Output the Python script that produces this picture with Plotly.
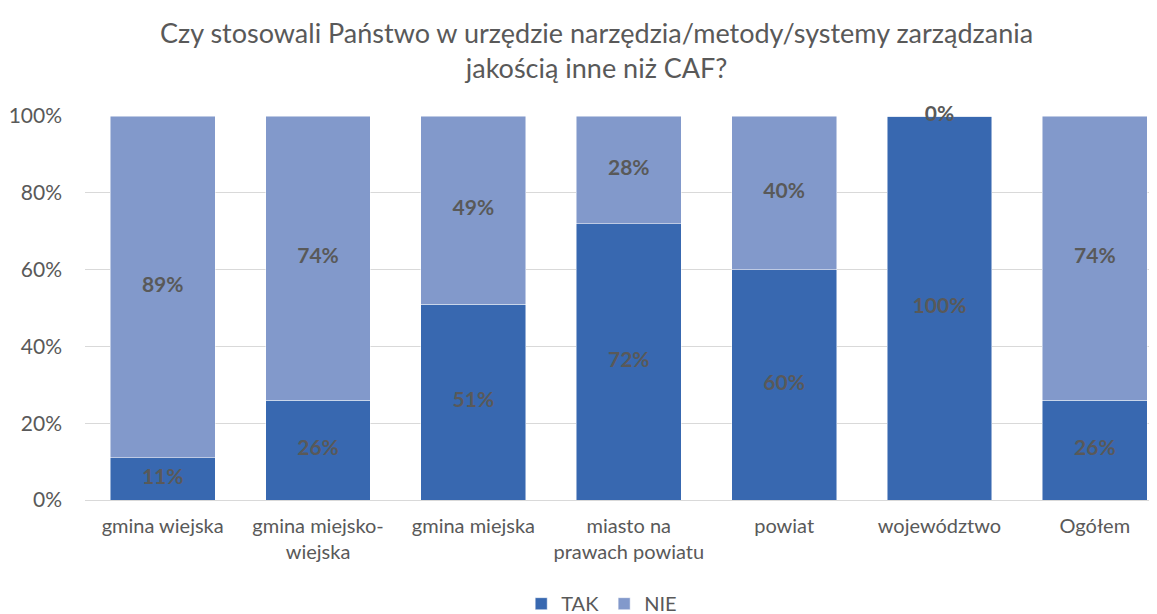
import plotly.graph_objects as go

categories = ["gmina wiejska", "gmina miejsko-<br>wiejska", "gmina miejska",
              "miasto na<br>prawach powiatu", "powiat", "województwo", "Ogółem"]
tak = [11, 26, 51, 72, 60, 100, 26]
nie = [89, 74, 49, 28, 40, 0, 74]
series_names = ["TAK", "NIE"]
colors = ["#3868B0", "#8299CB"]
title_text = "Czy stosowali Państwo w urzędzie narzędzia/metody/systemy zarządzania<br>jakością inne niż CAF?"

FONT = "Lato"
GRAY = "#595959"

fig = go.Figure()
for name, vals, col in zip(series_names, [tak, nie], colors):
    fig.add_trace(go.Bar(
        x=categories, y=vals, name=name,
        marker=dict(color=col, line=dict(color="rgba(255,255,255,0.6)", width=0.8)),
        hoverinfo="skip",
    ))

# data labels at segment midpoints
lab_x, lab_y, lab_t = [], [], []
for c, t, n in zip(categories, tak, nie):
    lab_x += [c, c]
    lab_y += [t / 2, t + n / 2]
    lab_t += [f"{t}%", f"{n}%"]
fig.add_trace(go.Scatter(
    x=lab_x, y=lab_y, text=lab_t, mode="text", showlegend=False,
    cliponaxis=False,
    textfont=dict(family=FONT, size=21, color=GRAY, weight="bold"),
    hoverinfo="skip",
))

fig.add_annotation(
    text=title_text, xref="paper", x=0.477, xanchor="center",
    yref="paper", y=1.173, yanchor="middle", showarrow=False,
    font=dict(family=FONT, size=27, color=GRAY),
)

fig.update_layout(
    barmode="stack",
    bargap=0.325,
    width=1149, height=606,
    paper_bgcolor="white", plot_bgcolor="white",
    margin=dict(l=77, r=0, t=108, b=114, autoexpand=False),
    font=dict(family=FONT, color=GRAY),
    legend=dict(orientation="h", x=0.482, xref="paper", xanchor="center",
                y=-0.27, yref="paper", yanchor="middle",
                font=dict(family=FONT, size=20, color=GRAY),
                traceorder="normal", itemwidth=30),
    xaxis=dict(range=[-0.5, 6.4], showgrid=False, showline=False, ticks="",
               automargin=False, ticklabelstandoff=12,
               tickfont=dict(family=FONT, size=20, color=GRAY)),
    yaxis=dict(range=[0, 100], dtick=20, ticksuffix="%", showgrid=True,
               gridcolor="#D9D9D9", gridwidth=1, zeroline=True,
               zerolinecolor="#D9D9D9", zerolinewidth=1, showline=False,
               automargin=False,
               tickfont=dict(family=FONT, size=21, color=GRAY),
               ticklabelstandoff=22),
)

fig.write_html("out.html")
